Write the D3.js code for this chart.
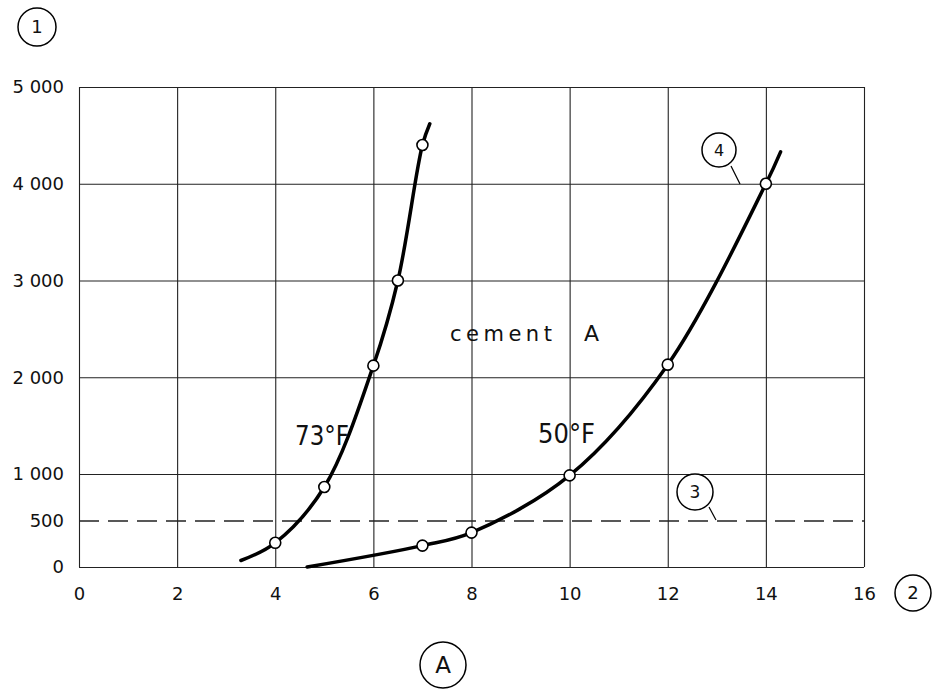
<!DOCTYPE html>
<html lang="en">
<head>
  <meta charset="UTF-8">
  <title>Cement A strength vs age</title>
  <script src="https://d3js.org/d3.v7.min.js"></script>
  <style>
    body {
      margin: 0;
      background: #fff;
    }
    svg text {
      font-family: "DejaVu Sans", sans-serif;
      fill: #111;
    }
    .axis text {
      font-size: 18px;
    }
    .axis .domain {
      display: none;
    }
    .axis line {
      stroke: #222;
      stroke-width: 1.1;
    }
    .curve {
      fill: none;
      stroke: #000;
      stroke-width: 3.5;
      stroke-linecap: round;
    }
    .pt {
      fill: #fff;
      stroke: #000;
      stroke-width: 1.6;
    }
    .tag circle {
      fill: #fff;
      stroke: #000;
      stroke-width: 1.5;
    }
    .leader {
      stroke: #000;
      stroke-width: 1.2;
    }
  </style>
</head>
<body>
  <svg width="933" height="693"></svg>

  <script>
    // ticks
    const xTicks = [0, 2, 4, 6, 8, 10, 12, 14, 16];
    const yTicks = [0, 500, 1000, 2000, 3000, 4000, 5000];
    const yTickLabels = ["0", "500", "1 000", "2 000", "3 000", "4 000", "5 000"];

    // measured points (circles)
    const warmX = [4, 5, 6, 6.5, 7];
    const warmY = [260, 860, 2120, 3000, 4400];
    const coldX = [7, 8, 10, 12, 14];
    const coldY = [230, 370, 985, 2130, 4000];

    // drawn curves (including the extended ends)
    const warmCurveX = [3.3, 4, 5, 6, 6.5, 7, 7.15];
    const warmCurveY = [70, 260, 860, 2120, 3000, 4400, 4620];
    const coldCurveX = [4.65, 7, 8, 10, 12, 14, 14.3];
    const coldCurveY = [0, 230, 370, 985, 2130, 4000, 4330];

    const limit = 500;

    const svg = d3.select("svg");
    const plotL = 79, plotR = 864, plotT = 87, plotB = 567;

    const x = d3.scaleLinear().domain([0, 16]).range([plotL, plotR]);
    // the printed axis is a bit squeezed below 1000
    const y = d3.scaleLinear().domain([0, 1000, 5000]).range([plotB, 474, plotT]);

    // grid + tick labels
    svg.append("g")
      .attr("class", "axis")
      .attr("transform", `translate(0,${plotB})`)
      .call(d3.axisBottom(x).tickValues(xTicks).tickSize(-(plotB - plotT)).tickPadding(20).tickFormat(d3.format("d")));

    const yAxis = svg.append("g")
      .attr("class", "axis")
      .attr("transform", `translate(${plotL},0)`)
      .call(d3.axisLeft(y).tickValues(yTicks).tickSize(-(plotR - plotL)).tickPadding(15)
        .tickFormat((d, i) => yTickLabels[i]));

    yAxis.selectAll(".tick")
      .filter(d => d === limit)
      .select("line")
      .attr("stroke-dasharray", "20,9")
      .style("stroke-width", 1.5);

    // curves
    const line = d3.line()
      .x(d => x(d[0]))
      .y(d => y(d[1]))
      .curve(d3.curveCatmullRom.alpha(0.5));

    svg.append("path")
      .attr("class", "curve")
      .attr("d", line(d3.zip(warmCurveX, warmCurveY)));

    svg.append("path")
      .attr("class", "curve")
      .attr("d", line(d3.zip(coldCurveX, coldCurveY)));

    svg.selectAll(".pt")
      .data(d3.zip(warmX, warmY).concat(d3.zip(coldX, coldY)))
      .enter().append("circle")
      .attr("class", "pt")
      .attr("cx", d => x(d[0]))
      .attr("cy", d => y(d[1]))
      .attr("r", 5.5);

    // annotations
    svg.append("text")
      .attr("x", 450).attr("y", 341)
      .style("font-size", "21px")
      .style("letter-spacing", "4.5px")
      .text("cement");
    svg.append("text")
      .attr("x", 584).attr("y", 341)
      .style("font-size", "22px")
      .text("A");

    svg.append("text")
      .attr("x", 295).attr("y", 445)
      .attr("textLength", 54).attr("lengthAdjust", "spacingAndGlyphs")
      .style("font-size", "26px")
      .text("73°F");
    svg.append("text")
      .attr("x", 538).attr("y", 443)
      .attr("textLength", 57).attr("lengthAdjust", "spacingAndGlyphs")
      .style("font-size", "26px")
      .text("50°F");

    // leader lines for numbered tags
    const leaders = [[731, 166, 740, 184], [709, 507, 716, 520]];
    svg.selectAll(".leader")
      .data(leaders)
      .enter().append("line")
      .attr("class", "leader")
      .attr("x1", d => d[0]).attr("y1", d => d[1])
      .attr("x2", d => d[2]).attr("y2", d => d[3]);

    const tags = [
      {t: "1", cx: 37, cy: 27, r: 19, fs: 18},
      {t: "2", cx: 913, cy: 593, r: 18, fs: 18},
      {t: "3", cx: 695, cy: 492, r: 18, fs: 17},
      {t: "4", cx: 719, cy: 150, r: 17, fs: 16},
      {t: "A", cx: 443, cy: 665, r: 23, fs: 23}
    ];

    const tag = svg.selectAll(".tag")
      .data(tags)
      .enter().append("g")
      .attr("class", "tag");
    tag.append("circle")
      .attr("cx", d => d.cx).attr("cy", d => d.cy).attr("r", d => d.r);
    tag.append("text")
      .attr("x", d => d.cx).attr("y", d => d.cy)
      .attr("text-anchor", "middle")
      .attr("dy", "0.36em")
      .style("font-size", d => d.fs + "px")
      .text(d => d.t);
  </script>
</body>
</html>
